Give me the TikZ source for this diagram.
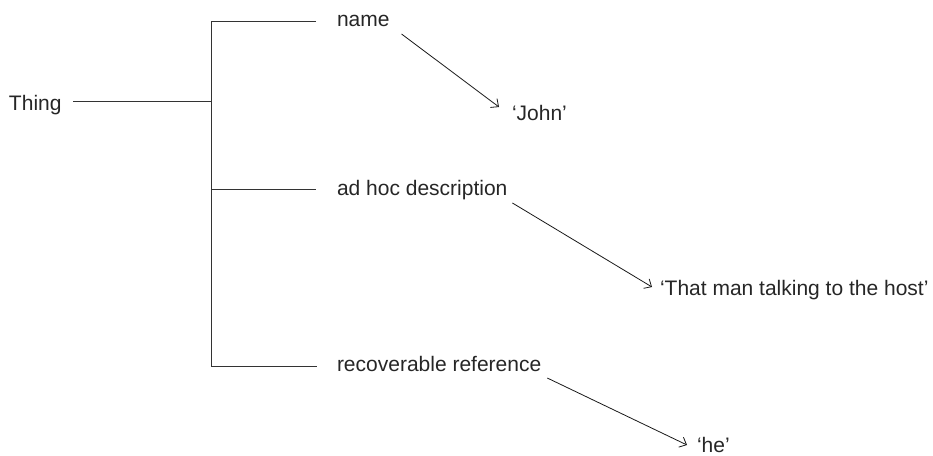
\documentclass[tikz,border=0pt]{standalone}
\usepackage{fontspec}
\setmainfont{Liberation Sans}
\usetikzlibrary{arrows.meta}
\begin{document}
\begin{tikzpicture}[x=1pt,y=-1pt,
  lbl/.style={inner sep=0pt,outer sep=0pt,anchor=base west,font=\fontsize{21}{25}\selectfont,text=black!85},
  tree/.style={line width=1pt,draw=black!80},
  arr/.style={line width=0.8pt,draw=black!90,-{Straight Barb[length=6pt,width=11pt,line width=0.8pt]}}]
\useasboundingbox (0,0) rectangle (933,455);
% labels
\node[lbl] (thing) at (9,110) {Thing};
\node[lbl] (name) at (337,27) {name};
\node[lbl] (john) at (512,120) {‘John’};
\node[lbl] (desc) at (337,195) {ad hoc description};
\node[lbl] (man) at (660,295) {‘That man talking to the host’};
\node[lbl] (rec) at (337,371) {recoverable reference};
\node[lbl] (he) at (697,452) {‘he’};
% tree joints
\coordinate (j) at (211,101);
\coordinate (t1) at (211,21);
\coordinate (t2) at (211,189);
\coordinate (t3) at (211,366);
\coordinate (e1) at (316,21);
\coordinate (e2) at (316,189);
\coordinate (e3) at (317,366);
\coordinate (s0) at (73,101);
% tree lines
\draw[tree] (s0) -- (j);
\draw[tree] (e1) -- (t1) -- (t3) -- (e3);
\draw[tree] (t2) -- (e2);
% arrows
\draw[arr] ([shift={(12pt,-7pt)}]name.base east) -- ([shift={(-13pt,13pt)}]john.base west);
\draw[arr] ([shift={(5pt,-8pt)}]desc.base east) -- ([shift={(-8pt,8pt)}]man.base west);
\draw[arr] ([shift={(6pt,-7pt)}]rec.base east) -- ([shift={(-10pt,7pt)}]he.base west);
\end{tikzpicture}
\end{document}
